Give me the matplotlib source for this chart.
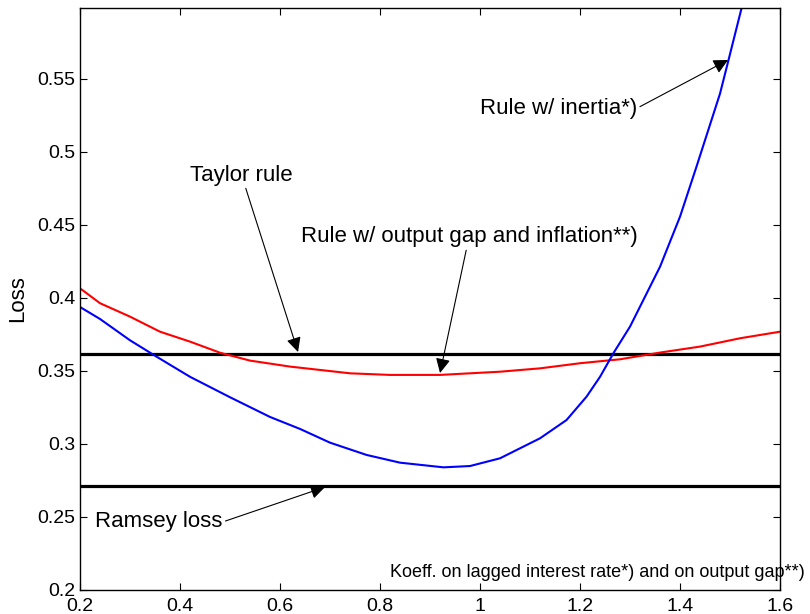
import matplotlib
matplotlib.use("Agg")
import matplotlib.pyplot as plt
from matplotlib.ticker import FuncFormatter

plt.rcParams['font.family'] = ['Liberation Sans', 'DejaVu Sans']

# Rule w/ inertia (blue)
x_inertia = [0.20, 0.24, 0.30, 0.354, 0.42, 0.50, 0.58, 0.64, 0.70, 0.773, 0.84, 0.927,
             0.98, 1.04, 1.12, 1.173, 1.213, 1.24, 1.267, 1.30, 1.36, 1.40, 1.433, 1.48,
             1.497, 1.523, 1.55]
y_inertia = [0.3938, 0.3856, 0.371, 0.3596, 0.346, 0.332, 0.3185, 0.3103, 0.3009, 0.2925,
             0.2872, 0.2840, 0.2849, 0.2902, 0.3039, 0.3164, 0.3324, 0.346, 0.3623, 0.3804,
             0.4214, 0.4557, 0.490, 0.540, 0.563, 0.5984, 0.64]

# Rule w/ output gap and inflation (red)
x_gap = [0.20, 0.24, 0.30, 0.36, 0.42, 0.48, 0.54, 0.62, 0.68, 0.74, 0.82, 0.92, 0.98,
         1.04, 1.12, 1.20, 1.28, 1.36, 1.44, 1.52, 1.60]
y_gap = [0.4066, 0.3964, 0.3872, 0.3769, 0.3701, 0.3625, 0.3571, 0.3530, 0.3507, 0.3484,
         0.3473, 0.3473, 0.3484, 0.3495, 0.3518, 0.3553, 0.3580, 0.3626, 0.3667, 0.3724,
         0.3769]

taylor_loss = 0.3616
ramsey_loss = 0.2712

x_ticks = [0.2, 0.4, 0.6, 0.8, 1.0, 1.2, 1.4, 1.6]
y_ticks = [0.2, 0.25, 0.3, 0.35, 0.4, 0.45, 0.5, 0.55]

fig = plt.figure(figsize=(8.1, 6.14), dpi=100)
ax = fig.add_axes([0.0988, 0.0391, 0.8642, 0.9479])

ax.axhline(taylor_loss, color='black', lw=2.3)
ax.axhline(ramsey_loss, color='black', lw=2.3)
ax.plot(x_gap, y_gap, color='#ff0000', lw=1.5)
ax.plot(x_inertia, y_inertia, color='#0000ff', lw=1.5)

ax.set_xlim(0.2, 1.6)
ax.set_ylim(0.2, 0.5986)
ax.set_xticks(x_ticks)
ax.set_yticks(y_ticks)
fmt = FuncFormatter(lambda v, p: ('%g' % round(v, 4)))
ax.xaxis.set_major_formatter(fmt)
ax.yaxis.set_major_formatter(fmt)
ax.tick_params(direction='in', top=True, right=True, length=5, width=0.8, labelsize=14)
ax.tick_params(axis='x', pad=6)
for s in ax.spines.values():
    s.set_linewidth(1.0)

ax.set_ylabel('Loss', fontsize=16, va='center')
ax.yaxis.set_label_coords(-0.0886, 0.5)
ax.text(1.234, 0.2123, 'Koeff. on lagged interest rate*) and on output gap**)',
        fontsize=13, ha='center', va='center', clip_on=False)

arrow = dict(arrowstyle='-|>', color='black', lw=0.8, mutation_scale=22, shrinkA=0, shrinkB=0)
arrow_r = dict(arrow, relpos=(1.0, 0.5))
ax.annotate('Rule w/ inertia*)', xy=(1.496, 0.563), xytext=(1.157, 0.530),
            fontsize=16, ha='center', va='center', arrowprops=arrow_r)
ax.annotate('Taylor rule', xy=(0.636, 0.3630), xytext=(0.523, 0.4842),
            fontsize=16, ha='center', va='center', arrowprops=arrow)
ax.annotate('Rule w/ output gap and inflation**)', xy=(0.92, 0.3486), xytext=(0.978, 0.4418),
            fontsize=16, ha='center', va='center', arrowprops=arrow)
ax.annotate('Ramsey loss', xy=(0.69, 0.2705), xytext=(0.358, 0.2466),
            fontsize=16, ha='center', va='center', arrowprops=arrow_r)

fig.savefig('out.png', dpi=100)
